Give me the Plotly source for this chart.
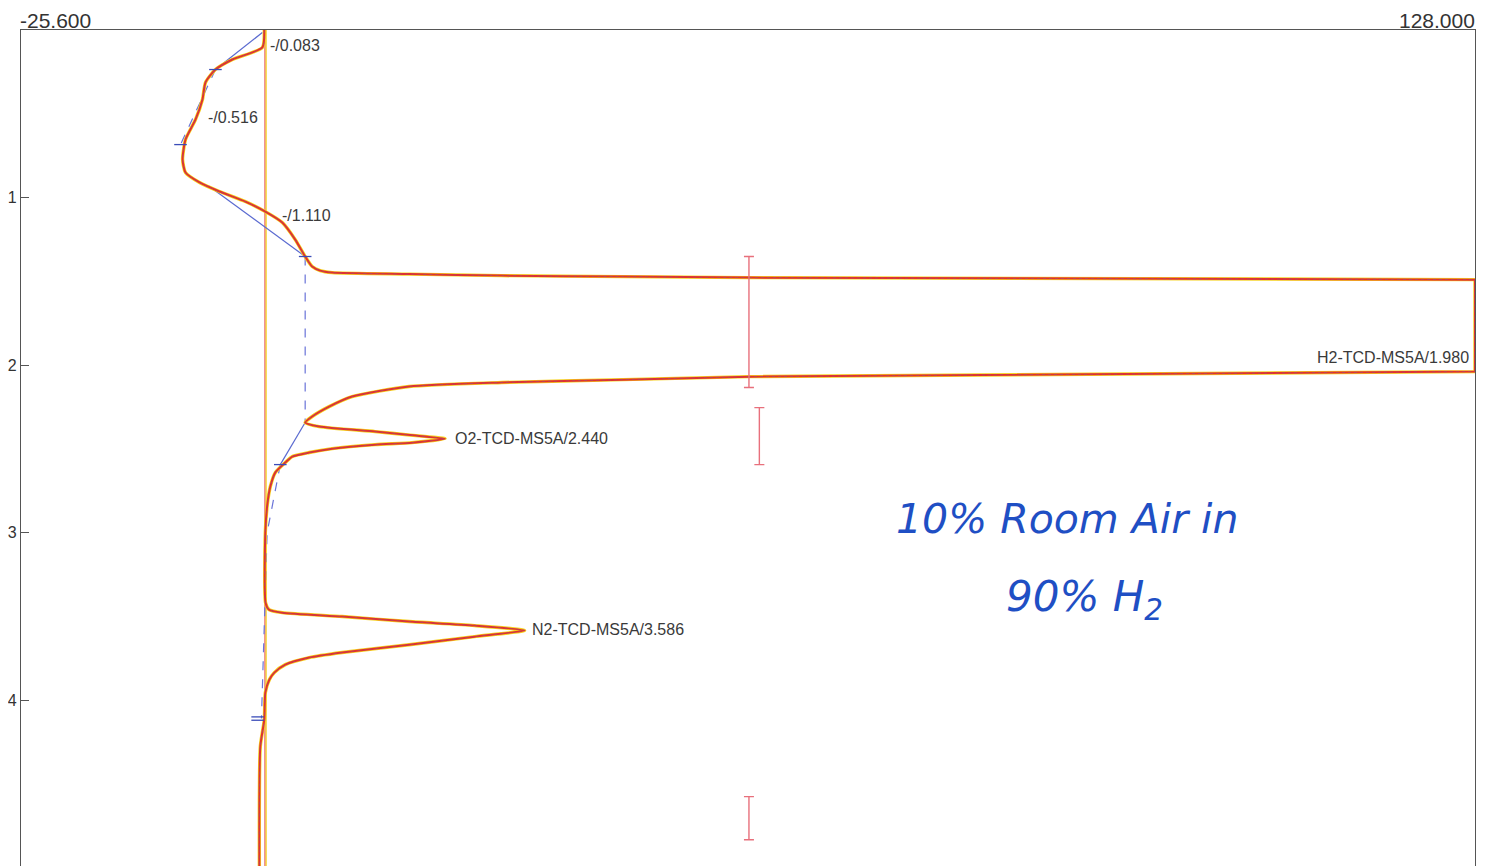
import plotly.graph_objects as go

# ---------------- data ----------------
# chromatogram trace: retention time (min) vs detector signal
trace_time = [0.000, 0.104, 0.176, 0.236, 0.313, 0.415, 0.534, 0.654, 0.773, 0.851,
              0.910, 0.964, 1.024, 1.084, 1.149, 1.251, 1.352, 1.412, 1.436, 1.448,
              1.457, 1.466, 1.472, 1.478, 1.490,
              2.039, 2.069, 2.087, 2.104, 2.128, 2.188, 2.248,
              2.307, 2.343, 2.367, 2.397, 2.418, 2.440, 2.463, 2.475, 2.499, 2.522,
              2.546, 2.582, 2.642, 2.725, 2.833, 3.000, 3.420, 3.460, 3.478, 3.501,
              3.531, 3.555, 3.584, 3.621, 3.669, 3.716, 3.746, 3.788, 3.836, 3.878,
              3.955, 4.116, 4.278, 4.990]
trace_signal = [0.10, -0.10, -3.27, -5.06, -6.11, -6.43, -7.16, -8.22, -8.53, -8.22,
                -6.74, -4.64, -1.90, 0.21, 2.00, 3.37, 4.42, 5.16, 6.00, 7.27,
                15.4, 25.2, 38.0, 51.3, 128.0,
                128.0, 51.3, 38.0, 25.2, 15.4, 9.38, 6.95,
                5.16, 4.42, 5.90, 11.8, 15.5, 19.2, 15.7, 11.8, 7.27, 4.85,
                3.06, 2.32, 1.26, 0.74, 0.42, 0.21, 0.24, 0.60, 2.00, 8.32,
                15.4, 22.3, 27.6, 22.3, 15.4, 8.32, 4.85, 2.32, 1.16, 0.63,
                0.21, 0.10, -0.32, -0.42]

# integration baselines
base_solid_time = [0.015, 0.236, None, 0.930, 1.352, None, 2.343, 2.594]
base_solid_signal = [-0.10, -5.06, None, -5.80, 4.42, None, 4.42, 1.79]
base_dash_time = [0.236, 0.684, None, 1.352, 2.343, None, 2.594, 3.000, 4.110]
base_dash_signal = [-5.06, -8.75, None, 4.42, 4.42, None, 1.79, 0.40, -0.20]
base_tick_time = [0.236, 0.684, 1.352, 2.594, 4.100, 4.120]
base_tick_signal = [-5.06, -8.75, 4.42, 1.79, -0.60, -0.60]

# zero / reference line
ref_signal = 0.15

# integration window markers (I-beams): centre signal, start / end time
window_signal = [51.3, 52.4, 51.3]
window_start = [1.352, 2.254, 4.576]
window_end = [2.134, 2.594, 4.833]

# peak labels
peak_labels = ["-/0.083", "-/0.516", "-/1.110", "O2-TCD-MS5A/2.440",
               "N2-TCD-MS5A/3.586", "H2-TCD-MS5A/1.980"]
label_time = [0.093, 0.522, 1.107, 2.440, 3.580, 1.955]
label_signal = [0.45, -6.10, 1.80, 20.00, 28.20, 127.6]
label_anchor = ["left", "left", "left", "left", "left", "right"]

x_min, x_max = -25.6, 128.0
y_top, y_bottom = 0.0, 4.99
y_ticks = [1, 2, 3, 4]

# ---------------- figure ----------------
fig = go.Figure()

# reference vertical line (yellow halo + pink line)
fig.add_trace(go.Scatter(x=[ref_signal + 0.12, ref_signal + 0.12], y=[y_top, y_bottom],
                         mode="lines", line=dict(color="#f6d94a", width=2), hoverinfo="skip"))
fig.add_trace(go.Scatter(x=[ref_signal, ref_signal], y=[y_top, y_bottom],
                         mode="lines", line=dict(color="#ec7f86", width=1.2), hoverinfo="skip"))

# baselines
fig.add_trace(go.Scatter(x=base_dash_signal, y=base_dash_time, mode="lines",
                         line=dict(color="#6a74d8", width=1.2, dash="dash"), hoverinfo="skip"))
fig.add_trace(go.Scatter(x=base_solid_signal, y=base_solid_time, mode="lines",
                         line=dict(color="#5a6ad0", width=1.2), hoverinfo="skip"))

# chromatogram: smooth parts drawn as splines, the saturated H2 part as straight lines
sat = [i for i, v in enumerate(trace_signal) if v >= 51.3]
i0, i1 = sat[0], sat[-1]
segments = [(0, i0 + 1, "spline"), (i0, i1 + 1, "linear"), (i1, len(trace_time), "spline")]
layers = [dict(color="#f5d21f", width=3.4), dict(color="#e2312c", width=2.0),
          dict(color="#7a5aa8", width=0.8, dash="dot")]
for k, style in enumerate(layers):
    for a, b, shp in segments:
        ln = dict(style, shape=shp)
        if shp == "spline":
            ln["smoothing"] = 0.6
        fig.add_trace(go.Scatter(x=trace_signal[a:b], y=trace_time[a:b], mode="lines",
                                 line=ln, opacity=0.45 if k == 2 else 1.0, hoverinfo="skip"))

# baseline tick marks
fig.add_trace(go.Scatter(x=base_tick_signal, y=base_tick_time, mode="markers",
                         marker=dict(symbol="line-ew", size=9, line=dict(color="#3a4cb8", width=1.3)),
                         hoverinfo="skip"))

# integration window I-beams
mid = [(a + b) / 2 for a, b in zip(window_start, window_end)]
half = [(b - a) / 2 for a, b in zip(window_start, window_end)]
fig.add_trace(go.Scatter(x=window_signal, y=mid, mode="markers",
                         marker=dict(size=1, color="rgba(0,0,0,0)"),
                         error_y=dict(type="data", array=half, symmetric=True,
                                      color="#e8707c", thickness=1.4, width=5),
                         hoverinfo="skip"))

# peak labels
for txt, t, s, anc in zip(peak_labels, label_time, label_signal, label_anchor):
    fig.add_annotation(x=s, y=t, text=txt, showarrow=False, xanchor=anc, yanchor="middle",
                       font=dict(family="Liberation Sans, Arial", size=16, color="#3a3a3a"))

# axis end labels
fig.add_annotation(x=0, y=1, xref="paper", yref="paper", text="-25.600", showarrow=False,
                   xanchor="left", yanchor="bottom", yshift=-4, xshift=-3,
                   font=dict(family="Liberation Sans, Arial", size=21, color="#333333"))
fig.add_annotation(x=1, y=1, xref="paper", yref="paper", text="128.000", showarrow=False,
                   xanchor="right", yanchor="bottom", yshift=-4, xshift=2,
                   font=dict(family="Liberation Sans, Arial", size=21, color="#333333"))

# handwritten note
fig.add_annotation(x=84.9, y=2.92, text="<i>10% Room Air in</i>", showarrow=False,
                   font=dict(family="DejaVu Sans", size=41, color="#1f4fc4"))
fig.add_annotation(x=86.8, y=3.40, text="<i>90% H<sub>2</sub></i>", showarrow=False,
                   font=dict(family="DejaVu Sans", size=42, color="#1f4fc4"))

fig.update_layout(
    width=1480, height=858,
    margin=dict(l=13, r=13, t=22, b=0),
    paper_bgcolor="white", plot_bgcolor="white",
    showlegend=False,
    xaxis=dict(range=[x_min, x_max], showgrid=False, zeroline=False, showticklabels=False,
               ticks="", showline=True, linecolor="#555555", linewidth=1.2, mirror=True),
    yaxis=dict(range=[y_bottom, y_top], showgrid=False, zeroline=False,
               tickvals=y_ticks, ticktext=[str(v) for v in y_ticks],
               ticks="inside", ticklen=8, tickcolor="#555555", ticklabelstandoff=0,
               tickfont=dict(family="Liberation Sans, Arial", size=16, color="#333333"),
               showline=True, linecolor="#555555", linewidth=1.2, mirror=True,
               automargin=False),
)

fig.write_html("out.html")
